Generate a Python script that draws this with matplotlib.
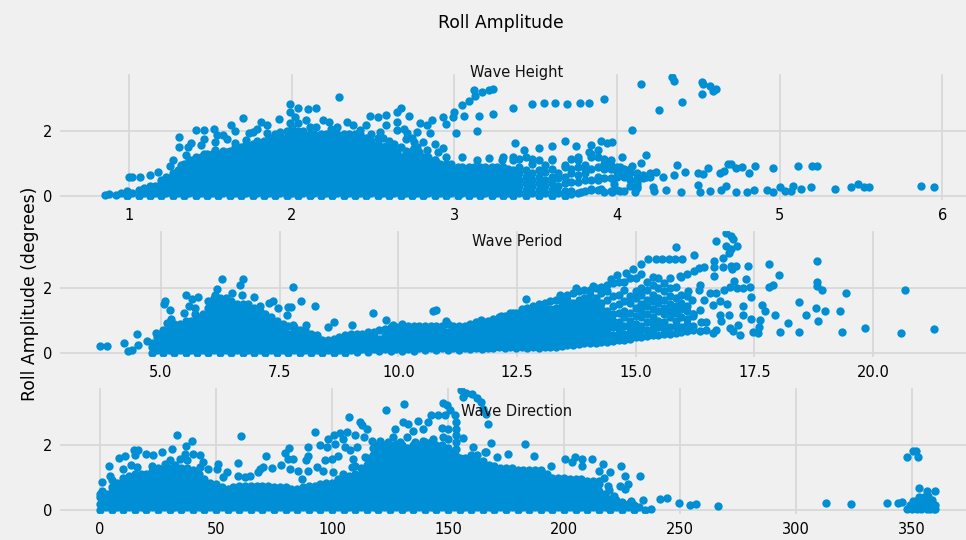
import matplotlib
matplotlib.use("Agg")
import matplotlib.pyplot as plt

# dense part of each cloud: (x, [roll values])
height_cols = [
 (.85,[.02]),(.88,[.08]),(.92,[.03]),(.95,[.1]),(.99,[0,.15]),(1.02,[.1]),(1.06,[0,.2]),(1.09,[.1,.25]),
 (1.13,[0,.2,.3]),(1.16,[.1,.3]),(1.2,[0,.2,.4,.5]),(1.23,[.1,.3,.5,.6]),(1.27,[0,.2,.4,.6,.7]),(1.3,[.1,.3,.5,.7,.8]),
 (1.34,[0,.2,.4,.6,.8,1]),(1.37,[.1,.3,.5,.7,.9,1.1]),(1.41,[0,.2,.4,.6,.8,1,1.2]),(1.44,[.1,.3,.5,.7,.9,1.1,1.2]),
 (1.48,[0,.2,.4,.6,.8,1,1.2,1.3]),(1.51,[.1,.3,.5,.7,.9,1.1,1.3]),(1.55,[0,.2,.4,.6,.8,1,1.2,1.3]),(1.58,[.1,.3,.5,.7,.9,1.1,1.3,1.4]),
 (1.62,[0,.2,.4,.6,.8,1,1.2,1.4]),(1.65,[.1,.3,.5,.7,.9,1.1,1.3,1.5]),(1.69,[0,.2,.4,.6,.8,1,1.2,1.4,1.5]),(1.72,[.1,.3,.5,.7,.9,1.1,1.3,1.5,1.6]),
 (1.76,[0,.2,.4,.6,.8,1,1.2,1.4,1.6]),(1.79,[.1,.3,.5,.7,.9,1.1,1.3,1.5,1.7]),(1.83,[0,.2,.4,.6,.8,1,1.2,1.4,1.6,1.7]),(1.86,[.1,.3,.5,.7,.9,1.1,1.3,1.5,1.7,1.8]),
 (1.9,[0,.2,.4,.6,.8,1,1.2,1.4,1.6,1.8,1.9]),(1.93,[.1,.3,.5,.7,.9,1.1,1.3,1.5,1.7,1.9]),(1.97,[0,.2,.4,.6,.8,1,1.2,1.4,1.6,1.8,2]),(2,[.1,.3,.5,.7,.9,1.1,1.3,1.5,1.7,1.9,2.1]),
 (2.04,[0,.2,.4,.6,.8,1,1.2,1.4,1.6,1.8,2]),(2.07,[.1,.3,.5,.7,.9,1.1,1.3,1.5,1.7,1.9,2]),(2.11,[0,.2,.4,.6,.8,1,1.2,1.4,1.6,1.8,1.9]),(2.14,[.1,.3,.5,.7,.9,1.1,1.3,1.5,1.7,1.9]),
 (2.18,[0,.2,.4,.6,.8,1,1.2,1.4,1.6,1.8,1.9]),(2.21,[.1,.3,.5,.7,.9,1.1,1.3,1.5,1.7,1.9]),(2.25,[0,.2,.4,.6,.8,1,1.2,1.4,1.6,1.8,1.9]),(2.28,[.1,.3,.5,.7,.9,1.1,1.3,1.5,1.7,1.9]),
 (2.32,[0,.2,.4,.6,.8,1,1.2,1.4,1.6,1.8,1.9]),(2.35,[.1,.3,.5,.7,.9,1.1,1.3,1.5,1.7,1.9]),(2.39,[0,.2,.4,.6,.8,1,1.2,1.4,1.6,1.8,1.9]),(2.42,[.1,.3,.5,.7,.9,1.1,1.3,1.5,1.7,1.9]),
 (2.46,[0,.2,.4,.6,.8,1,1.2,1.4,1.6,1.8]),(2.49,[.1,.3,.5,.7,.9,1.1,1.3,1.5,1.7,1.9]),(2.53,[0,.2,.4,.6,.8,1,1.2,1.4,1.6,1.8]),(2.56,[.1,.3,.5,.7,.9,1.1,1.3,1.5,1.8]),
 (2.6,[0,.2,.4,.6,.8,1,1.2,1.4,1.7]),(2.63,[.1,.3,.5,.7,.9,1.1,1.3,1.6]),(2.67,[0,.2,.4,.6,.8,1,1.2,1.5]),(2.7,[.1,.3,.5,.7,.9,1.1,1.3,1.4,1.75]),
 (2.74,[0,.2,.4,.6,.8,1,1.2,1.4,1.8]),(2.77,[.1,.3,.5,.7,.9,1.1,1.3,1.5]),(2.81,[0,.2,.4,.6,.8,1,1.2]),(2.84,[.1,.3,.5,.7,.9,1.1,1.2]),
 (2.88,[0,.2,.4,.6,.8,1,1.1]),(2.91,[.1,.3,.5,.7,.9,1]),(2.95,[0,.2,.4,.6,.8,1]),(2.98,[.1,.3,.5,.7,.9,1]),
 (3.02,[0,.2,.4,.6,.8,.9]),(3.05,[.1,.3,.5,.7,.9]),(3.09,[0,.2,.4,.6,.8,.9]),(3.12,[.1,.3,.5,.7,.9]),
 (3.16,[0,.2,.4,.6,.8,.9]),(3.19,[.1,.3,.5,.7,.9]),(3.23,[0,.2,.4,.6,.8,.9]),(3.26,[.1,.3,.5,.7,.9]),
 (3.3,[0,.2,.4,.6,.8,.9,1.2]),(3.33,[.1,.3,.5,.7,.85]),
 (3.36,[0,.2,.4,.6,.8,1.1,1.2]),(3.4,[.1,.3,.5,.7,.9,1.15]),(3.44,[0,.2,.4,.6,.8,1.2]),(3.48,[.1,.3,.5,.7,1,1.15]),
 (3.52,[0,.2,.4,.6,.8,1.1]),(3.56,[.1,.3,.5,.75,.95]),(3.6,[0,.2,.4,.6,.85,1.1,1.15]),(3.64,[.1,.3,.55,.7]),
 (3.68,[0,.15,.4,.6,.9,.95]),(3.72,[.08,.15,.45,.7,.85,1.15]),(3.76,[.1,.45,.65,.9,1.1,1.2]),(3.8,[.15,.5,.7,.85,.95]),
 (3.84,[.2,.5,.85,1.2,1.3]),(3.88,[.2,.5,.6,.9,1.2]),(3.92,[.12,.55,.85,1,1.15]),(3.96,[.15,.55,.85,.95,1.1]),
 (4,[.2,.6,.75,.9]),(4.04,[.15,.6,.7,.85]),(4.08,[.3,.5,.7,.85]),(4.12,[.3,.4,.55,.7]),(4.16,[.55,.65]),(4.2,[.6,.7]),
]
# more readings for the parts of the height cloud that show as solid
height_fill = [
 (1.25,[.15,.35,.55]),(1.32,[.15,.35,.55,.75,.95]),(1.39,[.15,.35,.55,.75,.95,1.1]),(1.46,[.15,.35,.55,.75,.95,1.15]),(1.53,[.15,.35,.55,.75,.95,1.15]),
 (1.6,[.15,.35,.55,.75,.95,1.15,1.35]),(1.67,[.15,.35,.55,.75,.95,1.15,1.35]),(1.74,[.15,.35,.55,.75,.95,1.15,1.35,1.55]),(1.81,[.15,.35,.55,.75,.95,1.15,1.35,1.55]),
 (1.88,[.15,.35,.55,.75,.95,1.15,1.35,1.55,1.75]),(1.95,[.15,.35,.55,.75,.95,1.15,1.35,1.55,1.75]),(2.02,[.15,.35,.55,.75,.95,1.15,1.35,1.55,1.75,1.95]),
 (2.09,[.15,.35,.55,.75,.95,1.15,1.35,1.55,1.75]),(2.16,[.15,.35,.55,.75,.95,1.15,1.35,1.55,1.75]),(2.23,[.15,.35,.55,.75,.95,1.15,1.35,1.55,1.75]),
 (2.3,[.15,.35,.55,.75,.95,1.15,1.35,1.55,1.75]),(2.37,[.15,.35,.55,.75,.95,1.15,1.35,1.55,1.75]),(2.44,[.15,.35,.55,.75,.95,1.15,1.35,1.55,1.75]),
 (2.51,[.15,.35,.55,.75,.95,1.15,1.35,1.55]),(2.58,[.15,.35,.55,.75,.95,1.15,1.35,1.55]),(2.65,[.15,.35,.55,.75,.95,1.15,1.35]),(2.72,[.15,.35,.55,.75,.95,1.15]),
 (2.79,[.15,.35,.55,.75,.95]),(2.86,[.15,.35,.55,.75,.95]),(2.93,[.15,.35,.55,.75]),(3,[.15,.35,.55,.75]),(3.07,[.15,.35,.55,.75]),(3.14,[.15,.35,.55,.75]),
 (3.21,[.15,.35,.55,.75]),(3.28,[.15,.35,.55,.75]),
]
height_x = [1,1.02,1.07,1.13,1.18,1.25,1.27,1.31,1.31,1.38,1.41,1.46,1.52,1.54,1.63,1.65,1.7,1.81,1.85,1.92,1.99,1.99,2.04,2.1,2.15,
 2.02,2.19,2.23,2.29,2.34,2.48,2.53,2.58,2.65,2.67,2.72,2.65,2.79,2.86,2.93,2.95,3,2.99,3.05,3.09,3.12,3.13,3.17,3.21,3.24,3.06,3.15,3.24,
 3.01,3.14,2.83,2.85,2.77,2.81,2.88,2.93,2.9,3.05,3.21,2.46,2.58,2.69,2.28,2.38,2.11,1.99,1.93,1.79,1.74,1.46,1.58,1.65,1.44,1.53,
 3.36,3.48,3.55,3.62,3.69,3.77,3.83,3.92,4.15,4.34,4.35,4.52,4.53,4.57,4.61,4.59,4.52,4.4,4.26,4.09,
 3.37,3.43,3.52,3.6,3.68,3.75,3.84,3.9,3.94,3.97,3.83,3.88,4.03,4.18,4.15,4.09,4.02,4.24,4.28,4.18,4.37,4.35,4.42,4.5,4.53,4.56,4.63,4.66,4.68,4.7,4.73,4.77,4.81,4.85,4.96,5.11,5.2,5.23,
 4.51,4.5,4.57,4.64,4.67,4.73,4.8,4.84,4.92,4.96,5,5.03,5.08,5.07,5.13,5.19,5.34,5.44,5.48,5.52,5.55,5.87,5.95,
 4.39,4.22,4.23,4.3,4.11,4.12,4.02,3.97,3.98,3.9,3.84,3.78,
 1.35,1.36,1.46,1.53,1.6,1.72,1.76,1.85,2.04,2.09,2.15,2.24,2.42,2.54,2.65,2.71,2.62,2.75,2.75,2.83,2.78,2.95,2.88,3.14,3.29]
height_y = [.6,.6,.6,.65,.75,.92,1.1,1.5,1.83,1.64,2.03,2.05,2.08,1.88,2.18,2,2.41,2.27,2.18,2.36,2.6,2.82,2.7,2.67,2.72,
 2.42,2.34,2.27,3.06,2.27,2.46,2.42,2.49,2.6,2.7,2.47,2.29,2.24,2.34,2.42,2.22,2.6,2.44,2.8,2.93,3.26,3.08,3.19,3.26,3.29,2.47,2.47,2.54,
 1.93,2.01,2.2,1.93,1.98,1.67,1.6,1.49,1.36,1.21,1.16,2.18,2.18,2.08,2.13,2.18,2.13,2.24,1.98,2.08,1.93,1.77,1.88,1.62,1.57,1.42,
 2.72,2.85,2.88,2.88,2.85,2.88,2.88,3,3.44,3.67,3.54,3.5,3.44,3.4,3.31,3.23,3.13,2.9,2.65,2.05,
 1.64,1.41,1.48,1.53,1.69,1.55,1.57,1.71,1.64,1.67,1.36,1.42,1.21,1.26,1.03,.92,.9,.75,.59,.59,.95,.65,.75,.7,.67,.88,.7,.77,1,.99,.87,.9,.72,.94,.88,.92,.92,.92,
 .13,.34,.16,.18,.31,.14,.14,.18,.19,.14,.27,.16,.32,.16,.22,.27,.22,.29,.36,.29,.29,.3,.27,
 .12,.29,.15,.2,.13,.24,.16,.13,.37,.22,.22,.14,
 1.26,1.52,1.31,1.67,1.77,1.72,1.98,1.93,2.24,2.34,2.13,2.08,2.03,1.98,2.03,1.93,1.47,1.67,1.47,1.42,1.36,1.21,1.11,1.11,1.11]

period_cols = [
 (4.8,[0,.2,.3]),(4.92,[.1,.3,.5]),(5.04,[0,.2,.4,.6,.7]),(5.16,[.1,.3,.5,.7,.9]),(5.28,[0,.2,.4,.6,.8,.9]),(5.4,[.1,.3,.5,.7,.9]),
 (5.52,[0,.2,.4,.6,.8,1]),(5.64,[.1,.3,.5,.7,.9,1]),(5.76,[0,.2,.4,.6,.8,1,1.1]),(5.88,[.1,.3,.5,.7,.9,1.1,1.2]),
 (6,[0,.2,.4,.6,.8,1,1.2,1.4,1.6]),(6.12,[.1,.3,.5,.7,.9,1.1,1.3,1.5,1.7]),(6.24,[0,.2,.4,.6,.8,1,1.2,1.4,1.6,1.7]),(6.36,[.1,.3,.5,.7,.9,1.1,1.3,1.5,1.7]),
 (6.48,[0,.2,.4,.6,.8,1,1.2,1.4,1.6]),(6.6,[.1,.3,.5,.7,.9,1.1,1.3,1.5]),(6.72,[0,.2,.4,.6,.8,1,1.2,1.4,1.5]),(6.84,[.1,.3,.5,.7,.9,1.1,1.3,1.5]),
 (6.96,[0,.2,.4,.6,.8,1,1.2,1.4]),(7.08,[.1,.3,.5,.7,.9,1.1,1.3]),(7.2,[0,.2,.4,.6,.8,1,1.2]),(7.32,[.1,.3,.5,.7,.9,1.1]),
 (7.44,[0,.2,.4,.6,.8,1]),(7.56,[.1,.3,.5,.7,.9]),(7.68,[0,.2,.4,.6,.85]),(7.8,[.1,.3,.5,.7,.8]),
 (7.92,[0,.2,.4,.6,.7]),(8.04,[.1,.3,.5,.7]),(8.16,[0,.2,.4,.6]),(8.28,[.1,.3,.5,.55]),(8.4,[0,.2,.4]),(8.52,[.1,.3,.4]),
 (8.64,[0,.2,.4,.45]),(8.76,[.1,.3,.5]),(8.88,[0,.2,.4,.55]),(9,[.1,.3,.5,.6]),(9.12,[.05,.25,.45,.6]),(9.24,[.12,.3,.5,.6]),
 (9.36,[.05,.25,.45,.65]),(9.48,[.12,.3,.5,.65]),(9.6,[.08,.25,.45,.7]),(9.72,[.14,.35,.55,.75]),(9.84,[.08,.25,.45,.65,.8]),(9.96,[.14,.35,.55,.75,.8]),
 (10.08,[.08,.25,.45,.65,.8]),(10.2,[.14,.35,.55,.75,.85]),(10.32,[.08,.25,.45,.65,.85]),(10.44,[.15,.35,.55,.75,.85]),(10.56,[.1,.25,.45,.65,.85]),(10.68,[.15,.35,.55,.75,.85]),
 (10.8,[.1,.25,.45,.65,.85]),(10.92,[.15,.35,.55,.75,.85]),(11.04,[.1,.25,.45,.65,.9]),(11.16,[.15,.35,.55,.75,.85]),(11.28,[.1,.25,.45,.65,.85]),(11.4,[.15,.35,.55,.75,.85]),
 (11.52,[.12,.25,.45,.65,.85,.9]),(11.64,[.15,.35,.55,.75,.95]),(11.76,[.12,.25,.45,.65,.85,1]),(11.88,[.15,.35,.55,.75,.95,1]),
 (12,[.15,.3,.5,.7,.9,1.05]),(12.12,[.18,.4,.6,.8,1,1.1]),(12.24,[.15,.3,.5,.7,.9,1.1,1.15]),(12.36,[.18,.4,.6,.8,1,1.2]),
 (12.48,[.15,.3,.5,.7,.9,1.1,1.25]),(12.6,[.18,.4,.6,.8,1,1.2,1.35]),(12.72,[.15,.3,.5,.7,.9,1.1,1.3,1.4]),(12.84,[.18,.4,.6,.8,1,1.2,1.4,1.45]),
 (12.96,[.15,.3,.5,.7,.9,1.1,1.3,1.5]),(13.08,[.18,.4,.6,.8,1,1.2,1.4,1.55]),(13.2,[.2,.35,.55,.75,.95,1.15,1.35,1.6]),(13.32,[.2,.4,.6,.8,1,1.2,1.4,1.65]),
 (13.44,[.22,.35,.55,.75,.95,1.15,1.35,1.55,1.7]),(13.56,[.25,.45,.65,.85,1.05,1.25,1.45,1.65,1.8]),(13.68,[.25,.4,.55,.75,.95,1.15,1.35,1.55,1.85]),(13.8,[.27,.45,.65,.85,1.05,1.25,1.45,1.65,1.9]),
 (13.92,[.3,.5,.7,.9,1.1,1.3,1.5,1.7,1.95]),(14.04,[.3,.4,.6,.8,1,1.2,1.4,1.6,1.8,1.95]),(14.16,[.32,.5,.7,.9,1.1,1.3,1.5,1.7,2]),(14.28,[.35,.55,.75,.95,1.15,1.35,1.55,1.85,2.05]),
 (14.4,[.35,.5,.7,.9,1.1,1.3,1.65,1.9,2.1]),(14.52,[.38,.55,.8,1,1.2,1.45,1.75,2.15]),(14.64,[.4,.6,.75,.95,1.25,1.5,1.8,2.2]),(14.76,[.42,.6,.85,1.1,1.3,1.6,1.95,2.2]),
 (14.88,[.45,.65,.8,1,1.25,1.55,1.75,2.3]),(15,[.5,.7,.9,1.15,1.4,1.7,1.9,2.3]),(15.12,[.5,.7,.85,1.1,1.3,1.5,1.8,2,2.45]),(15.24,[.52,.7,.95,1.2,1.45,1.65,1.95,2.2]),
 (15.36,[.55,.75,.9,1.1,1.35,1.6,1.8,2.1,2.35]),(15.48,[.55,.8,1,1.3,1.55,1.7,2,2.3]),(15.6,[.6,.75,.95,1.2,1.4,1.65,1.9,2.15]),(15.72,[.6,.8,1.1,1.3,1.5,1.75,2,2.3]),
 (15.84,[.62,.85,1,1.25,1.45,1.7,2.05]),(15.96,[.65,.8,1.1,1.35,1.55,1.8,2.35]),(16.08,[.68,.9,1.05,1.3,1.45,1.75]),(16.2,[.7,.85,1.15,1.2]),
]
period_x = [3.72,3.86,4.21,4.31,4.38,4.5,4.52,4.7,4.9,5.08,5.06,5.19,5.22,5.12,5.52,5.65,5.79,5.6,5.72,5.48,5.72,6.28,6.72,6.66,6.19,7.79,7.96,8.24,
 6.49,6.7,6.96,7.37,7.27,7.46,7.68,7.74,7.65,7.79,8.05,8.64,8.52,9.03,9.47,10.73,10.8,9.75,10.07,9.89,11.01,11.75,12.17,12.35,6.14,6.07,7.08,
 12.68,12.42,13.4,13.75,14.1,14.49,14.61,14.8,14.94,15.12,15.27,15.42,15.56,15.7,15.82,15.98,15.85,16.24,16.43,16.33,16.24,16.08,15.93,
 16.7,16.9,17,17.05,16.91,17.13,17.01,16.97,16.84,16.66,16.66,16.66,16.85,17,17.12,17.03,17.37,17.8,18.01,18.82,18.82,18.82,18.93,19.43,20.68,
 17.89,17.81,17.32,17.4,17.26,17.13,17.07,16.98,16.87,16.7,16.57,16.36,16.33,16.1,17.43,17.27,16.92,16.77,16.63,16.43,16.19,16.36,
 17.67,17.72,17.94,17.26,16.97,16.77,16.21,17.43,17.61,17.6,18.22,18.45,18.79,19,18.59,18.84,19.3,18.05,18.45,19.35,19.83,20.59,21.29,
 17.58,17.47,17.19,17.05,17.15,16.98,16.8,16.7,16.63,16.49,16.35,16.49,16.38]
period_y = [.21,.21,.3,.07,.1,.59,.24,.36,.62,1.62,1.52,1.34,1.05,.93,1.8,1.68,1.72,1.44,1.39,1.24,1.19,2.27,2.29,2.11,1.98,2.03,1.62,1.44,
 1.86,1.78,1.72,1.62,1.55,1.39,1.41,1.43,1.16,.88,.88,.95,.82,.88,1.24,1.29,1.34,1.03,.91,.88,.98,1.03,1.13,1.24,1.8,1.6,1.44,
 1.66,1.24,1.78,2.01,2.06,2.27,2.4,2.47,2.58,2.75,2.89,2.91,2.91,2.91,2.91,2.91,3.27,3.02,2.65,2.63,2.53,2.45,2.37,
 3.45,3.71,3.59,3.5,3.3,3.3,3.2,3.07,2.94,2.84,2.65,2.37,2.65,2.68,2.68,2.58,2.68,2.73,2.42,2.84,2.2,2.06,1.93,1.86,1.93,
 2.11,2.04,2.29,2.04,2.01,1.99,2.22,2.03,1.93,1.86,1.86,2.11,1.93,1.91,1.73,1.44,1.52,1.6,1.49,1.64,1.65,1.34,
 1.49,1.29,1.16,1.16,1.16,1.16,1.19,1.05,1.03,.82,.93,1.57,1.39,1.31,1.16,1,1.29,.64,.65,.64,.77,.62,.75,
 .62,.65,.57,.67,.88,.77,.98,.72,.62,.72,.69,.95,.95]

direction_cols = [
 (0,[0,.2,.4,.5]),(2.5,[.1,.3,.5]),(5,[0,.2,.4,.6,.7]),(7.5,[.1,.3,.5,.7,.85]),(10,[0,.2,.4,.6,.8,1]),(12.5,[.1,.3,.5,.7,.9,1.05]),
 (15,[0,.2,.4,.6,.8,1,1.1]),(17.5,[.1,.3,.5,.7,.9,1.1]),(20,[0,.2,.4,.6,.8,1,1.1]),(22.5,[.1,.3,.5,.7,.9,1.1,1.2]),(25,[0,.2,.4,.6,.8,1,1.2,1.3]),(27.5,[.1,.3,.5,.7,.9,1.1,1.3]),
 (30,[0,.2,.4,.6,.8,1,1.2,1.3]),(32.5,[.1,.3,.5,.7,.9,1.1,1.3,1.4]),(35,[0,.2,.4,.6,.8,1,1.2,1.3]),(37.5,[.1,.3,.5,.7,.9,1.1,1.3]),(40,[0,.2,.4,.6,.8,1,1.2,1.25]),(42.5,[.1,.3,.5,.7,.9,1.1]),
 (45,[0,.2,.4,.6,.8,.95]),(47.5,[.1,.3,.5,.7,.85]),(50,[0,.2,.4,.6,.8]),(52.5,[.1,.3,.5,.7]),(55,[0,.2,.4,.6,.65]),(57.5,[.1,.3,.5,.7]),
 (60,[0,.2,.4,.6,.75]),(62.5,[.1,.3,.5,.7,.75]),(65,[0,.2,.4,.6,.75]),(67.5,[.1,.3,.5,.7,.75]),(70,[0,.2,.4,.6,.75]),(72.5,[.1,.3,.5,.7,.75]),
 (75,[0,.2,.4,.6,.7]),(77.5,[.1,.3,.5,.7]),(80,[0,.2,.4,.6,.7]),(82.5,[.1,.3,.5,.65]),(85,[0,.2,.4,.6,.65]),(87.5,[.1,.3,.5,.7]),
 (90,[0,.2,.4,.6,.75]),(92.5,[.1,.3,.5,.7,.75]),(95,[0,.2,.4,.6,.8]),(97.5,[.1,.3,.5,.7,.85]),(100,[0,.2,.4,.6,.8,.85]),(102.5,[.1,.3,.5,.7,.9,.95]),
 (105,[0,.2,.4,.6,.8,1]),(107.5,[.1,.3,.5,.7,.9,1.05]),(110,[0,.2,.4,.6,.8,1,1.1]),(112.5,[.1,.3,.5,.7,.9,1.1,1.3]),(115,[0,.2,.4,.6,.8,1,1.2,1.4,1.6]),(117.5,[.1,.3,.5,.7,.9,1.1,1.3,1.5,1.7,1.9]),
 (120,[0,.2,.4,.6,.8,1,1.2,1.4,1.6,1.8,2]),(122.5,[.1,.3,.5,.7,.9,1.1,1.3,1.5,1.7,1.9,2]),(125,[0,.2,.4,.6,.8,1,1.2,1.4,1.6,1.8,2]),(127.5,[.1,.3,.5,.7,.9,1.1,1.3,1.5,1.7,1.9,2.05]),
 (130,[0,.2,.4,.6,.8,1,1.2,1.4,1.6,1.8,2]),(132.5,[.1,.3,.5,.7,.9,1.1,1.3,1.5,1.7,1.9]),(135,[0,.2,.4,.6,.8,1,1.2,1.4,1.6,1.8,2]),(137.5,[.1,.3,.5,.7,.9,1.1,1.3,1.5,1.7,1.9,2]),
 (140,[0,.2,.4,.6,.8,1,1.2,1.4,1.6,1.8,2,2.1]),(142.5,[.1,.3,.5,.7,.9,1.1,1.3,1.5,1.7,1.9,2.1]),(145,[0,.2,.4,.6,.8,1,1.2,1.4,1.6,1.8,2]),(147.5,[.1,.3,.5,.7,.9,1.1,1.3,1.5,1.7,1.9,2]),
 (150,[0,.2,.4,.6,.8,1,1.2,1.4,1.6,1.8,1.9]),(152.5,[.1,.3,.5,.7,.9,1.1,1.3,1.5,1.7,1.8]),(155,[0,.2,.4,.6,.8,1,1.2,1.4,1.6]),(157.5,[.1,.3,.5,.7,.9,1.1,1.3,1.5,1.6]),
 (160,[0,.2,.4,.6,.8,1,1.2,1.4,1.6,1.7]),(162.5,[.1,.3,.5,.7,.9,1.1,1.3,1.5,1.7]),(165,[0,.2,.4,.6,.8,1,1.2,1.4,1.5]),(167.5,[.1,.3,.5,.7,.9,1.1,1.3,1.4]),
 (170,[0,.2,.4,.6,.8,1,1.2,1.35]),(172.5,[.1,.3,.5,.7,.9,1.1,1.3]),(175,[0,.2,.4,.6,.8,1,1.2,1.3]),(177.5,[.1,.3,.5,.7,.9,1.1,1.3]),
 (180,[0,.2,.4,.6,.8,1,1.2,1.25]),(182.5,[.1,.3,.5,.7,.9,1.1,1.25]),(185,[0,.2,.4,.6,.8,1,1.2,1.25]),(187.5,[.1,.3,.5,.7,.9,1.1,1.25]),
 (190,[0,.2,.4,.6,.8,1,1.2,1.25]),(192.5,[.1,.3,.5,.7,.9,1.1]),(195,[0,.2,.4,.6,.8,1]),(197.5,[.1,.3,.5,.7,.9,1]),
 (200,[0,.2,.4,.6,.8,1]),(202.5,[.1,.3,.5,.7,.9,.95]),(205,[0,.2,.4,.6,.8,.95]),(207.5,[.1,.3,.5,.7,.9,.95]),
 (210,[0,.2,.4,.6,.8,.9]),(212.5,[.1,.3,.5,.7,.9]),(215,[0,.2,.4,.6,.8,.9]),(217.5,[.1,.3,.5]),
 (220,[0,.2,.35]),(222.5,[.1,.3]),(225,[0,.2,.25]),(227.5,[.1,.2]),(230,[0,.15]),(232.5,[.1]),(235,[.02]),(237.5,[.05]),
]
direction_x = [.7,.7,4,4.3,5,8,10.8,14.7,16.5,15,19.8,23,26.6,30.9,33.3,37,39.7,43,44.5,51,54.6,59.6,59.3,60.6,71.6,77.9,79.7,81.6,81.2,83.3,69,74,
 89.5,89.5,89,92.7,94.8,98.4,100.9,103.4,107.2,106.6,97.7,101.3,104.9,105.6,109.9,112,112.8,115,113.8,123.3,131.2,127.2,130.5,132.9,137,135,139.4,141.5,142.7,145.5,
 147.7,149.4,150.9,153,148.7,155.5,156.6,157.8,160.2,162.4,164.1,165.2,166.2,167.4,168.5,156.6,147.3,150.1,147.7,150.1,153.3,153.3,153.3,153.3,153.3,153.3,161,166,171,
 183,166.2,176,187,194.4,200.6,204.8,208,211.9,203.3,208,217,215,224.8,220,226.2,232.7,217.3,227.7,224,218.9,219.3,226.3,215,221.7,229,234,241.4,244.3,249.5,254.2,257,266.4,
 313,323.7,339.3,344,345.8,347.7,350.5,351.6,352.5,353.1,356.4,359.8,
 348,349,350,350.5,351,352,352.5,353,353.5,354,354.5,355,355.5,356,356.5,357,357.5,358,358.5,359,359.5,360,360,
 10,13.2,16,22.3,28,30.2,34.5,37.4,40.2,36.6,43,46.7,50.3,53.2,62.5,64.7,68.2,70.4,81.9,85.5,89.8,93.4,96.3,86.9,100.6,97,99.9,102.7,104.9,108.5,109.2,107.8,110.6,109.9,114.2,117.1,120.7,124.3,126.4,129.3,132.2,135.8,139.4,143.7]
direction_y = [.86,.6,1.35,1.06,.94,1.6,1.66,1.84,1.86,1.7,1.73,1.71,1.8,1.89,2.3,1.96,2.14,1.7,1.47,1.42,1.16,1.04,1.44,2.28,1.66,1.4,1.76,1.92,1.58,1.58,1.27,1.29,
 1.95,1.68,1.55,2.42,2.01,2.18,2.3,2.38,2.87,2.42,1.94,2.04,2.2,1.94,2.3,2.71,2.61,2.51,2.25,3.07,3.28,2.5,2.71,2.66,2.73,2.45,2.5,2.71,2.92,2.92,
 3.31,3.23,3.07,2.92,2.92,3.69,3.48,3.62,3.57,3.45,3.33,3.12,2.97,2.66,2.07,2.23,2.53,2.5,2.25,2.2,2.71,2.5,2.3,2.09,1.89,1.68,1.94,1.8,1.63,
 2.04,1.8,1.73,1.68,1.35,1.56,1.63,1.56,1.56,1.47,1.35,1.42,1.22,1.35,1.16,1.04,1.04,.98,.82,.75,.75,.62,.65,.5,.44,.29,.32,.34,.36,.21,.15,.18,.13,
 .21,.18,.21,.21,.26,1.63,1.81,1.81,1.63,.67,.6,.58,
 .05,.15,.05,.28,.15,.05,.3,.42,.15,.05,.25,.4,.12,.3,.05,.45,.2,.05,.3,.12,.05,.15,.03,
 1.27,1.39,1.32,1.35,1.42,1.53,1.58,1.53,1.73,1.73,1.32,1.27,1.27,1.01,1.01,1.06,1.16,1.32,1.27,1.22,1.22,1.32,1.22,.96,1.16,1.53,1.58,1.66,1.11,1.32,1.58,1.84,1.94,1.37,1.63,2.14,2.14,2.09,2.25,2.09,2.25,2.09,2.14,2.2]

panel_names = ["Wave Height", "Wave Period", "Wave Direction"]
panel_xticks = [[1, 2, 3, 4, 5, 6], [5, 7.5, 10, 12.5, 15, 17.5, 20], [0, 50, 100, 150, 200, 250, 300, 350]]
panel_xlims = [(.564, 6.2), (2.83, 22.15), (-18.1, 377.2)]


def join_cols(cols, xs, ys):
    all_x = list(xs)
    all_y = list(ys)
    for x, vals in cols:
        for v in vals:
            all_x.append(x)
            all_y.append(v)
    return all_x, all_y


plt.style.use("fivethirtyeight")
W, H = 966, 540
fig, axes = plt.subplots(3, 1, figsize=(W / 100, H / 100), dpi=100)

panels = [join_cols(height_cols + height_fill, height_x, height_y),
          join_cols(period_cols, period_x, period_y),
          join_cols(direction_cols, direction_x, direction_y)]
tops = [72, 229, 386]
title_ys = [72, 242, 412]

for i, ax in enumerate(axes):
    ax.set_position([58 / W, 1 - (tops[i] + 130) / H, 917 / W, 130 / H])
    ax.scatter(panels[i][0], panels[i][1], s=36, color="#008fd5", linewidths=0)
    ax.set_xlim(panel_xlims[i])
    ax.set_ylim(-.18, 3.82)
    ax.set_yticks([0, 2])
    ax.set_xticks(panel_xticks[i])
    if i == 1:
        ax.set_xticklabels(["5.0", "7.5", "10.0", "12.5", "15.0", "17.5", "20.0"])
    ax.tick_params(labelsize=10.5, pad=4)
    ax.grid(True, color="#d8d8d8", linewidth=1.3)
    ax.set_axisbelow(True)
    fig.text(517 / W, 1 - title_ys[i] / H, panel_names[i], ha="center", va="center", fontsize=10.5, color="#111111", zorder=5)

fig.text(501 / W, 1 - 23 / H, "Roll Amplitude", ha="center", va="center", fontsize=12.4)
fig.text(30 / W, 1 - 294 / H, "Roll Amplitude (degrees)", rotation=90, ha="center", va="center", fontsize=12.4)

fig.savefig("out.png", dpi=100)
